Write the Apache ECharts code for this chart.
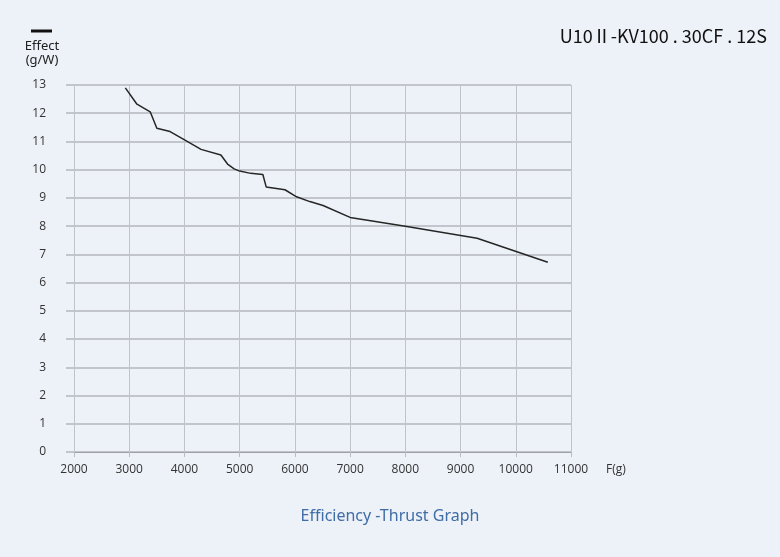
<!DOCTYPE html>
<html>
<head>
<meta charset="utf-8">
<script src="https://cdn.jsdelivr.net/npm/echarts@6/dist/echarts.min.js"></script>
<style>
html,body{margin:0;padding:0;background:#edf1f8;}
#chart{width:780px;height:557px;}
</style>
</head>
<body>
<div id="chart"></div>
<script>
const thrust = [2930,3140,3380,3500,3740,4010,4300,4660,4780,4900,5000,5200,5420,5480,5820,6030,6270,6510,7000,8000,9300,10580];
const effect = [12.9,12.32,12.05,11.47,11.35,11.05,10.72,10.52,10.2,10.03,9.95,9.87,9.83,9.39,9.29,9.04,8.87,8.73,8.31,8.0,7.57,6.72];
const xTicks = [2000,3000,4000,5000,6000,7000,8000,9000,10000,11000];
const yTicks = [0,1,2,3,4,5,6,7,8,9,10,11,12,13];
const titleText = 'Efficiency -Thrust Graph';
const modelText = 'U10Ⅱ-KV100 . 30CF . 12S';
const xName = 'F(g)';
const yName1 = 'Effect';
const yName2 = '(g/W)';

const chart = echarts.init(document.getElementById('chart'));
const font = 'Open Sans';
chart.setOption({
  backgroundColor: '#edf1f8',
  animation: false,
  grid: {left: 74, right: 209, top: 85, bottom: 105},
  title: {
    text: titleText, left: 'center', top: 503,
    textStyle: {color: '#3f6da6', fontSize: 16, fontWeight: 'normal', fontFamily: 'Noto Sans'}
  },
  graphic: [
    {type: 'rect', shape: {x: 31, y: 29.5, width: 21, height: 3}, style: {fill: '#111'}},
    {type: 'text', x: 42, y: 46, style: {text: yName1, fill: '#222', font: '13px Noto Sans', align: 'center', verticalAlign: 'middle'}},
    {type: 'text', x: 42, y: 60, style: {text: yName2, fill: '#222', font: '13px Noto Sans', align: 'center', verticalAlign: 'middle'}},
    {type: 'text', x: 767, y: 36, style: {text: modelText, fill: '#111', font: '18px Noto Sans CJK JP', align: 'right', verticalAlign: 'middle'}},
    {type: 'text', x: 606, y: 470, style: {text: xName, fill: '#333', font: '12px ' + font, align: 'left', verticalAlign: 'middle'}}
  ],
  xAxis: {
    type: 'value', min: xTicks[0], max: xTicks[xTicks.length - 1], interval: 1000,
    axisLine: {show: true, lineStyle: {color: '#9ea2a8', width: 1}},
    axisTick: {show: true, length: 5, lineStyle: {color: '#b9bdc4'}},
    axisLabel: {color: '#333', fontSize: 12, fontFamily: font, margin: 12, formatter: v => String(v)},
    splitLine: {show: true, lineStyle: {color: '#bfc3ca', width: 1}}
  },
  yAxis: {
    type: 'value', min: yTicks[0], max: yTicks[yTicks.length - 1], interval: 1,
    axisLine: {show: false},
    axisTick: {show: true, length: 8, lineStyle: {color: '#b3b7be', width: 1.5}},
    axisLabel: {color: '#333', fontSize: 12, fontFamily: font, margin: 28, formatter: v => String(v)},
    splitLine: {show: true, lineStyle: {color: '#b3b7be', width: 1.5}}
  },
  series: [{
    type: 'line',
    data: thrust.map((t, i) => [t, effect[i]]),
    showSymbol: false,
    lineStyle: {color: '#262626', width: 1.5},
    z: 5
  }]
});
</script>
</body>
</html>
